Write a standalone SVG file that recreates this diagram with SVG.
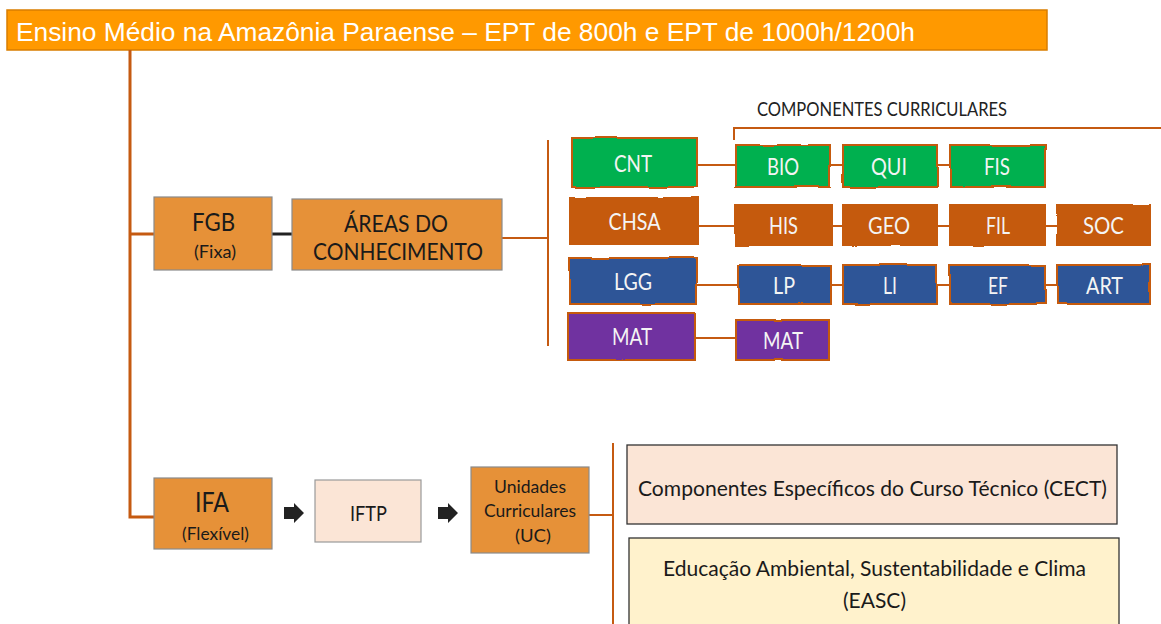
<svg xmlns="http://www.w3.org/2000/svg" width="1161" height="624" viewBox="0 0 1161 624">
<defs>
<filter id="rough" x="-5%" y="-10%" width="110%" height="120%">
<feTurbulence type="fractalNoise" baseFrequency="0.025" numOctaves="1" seed="5" result="n"/>
<feDisplacementMap in="SourceGraphic" in2="n" scale="3" xChannelSelector="R" yChannelSelector="G"/>
</filter>
</defs>
<style>
.t{font-family:Lato,"Open Sans","Liberation Sans",sans-serif;text-anchor:middle}
.w{fill:#f4f4f4;font-size:23px}
.d{fill:#1a1a1a}
.comp{stroke:#C55A11;stroke-width:2;filter:url(#rough)}
.g{fill:#00B050}.o{fill:#C55A11}.b{fill:#2F5597}.p{fill:#7030A0}
.lt{fill:#E69138;stroke:#8a8a8a;stroke-width:1.2}
.con{stroke:#C55A11;stroke-width:3;fill:none}
.thin{stroke:#C55A11;stroke-width:2;fill:none}
</style>
<rect width="1161" height="624" fill="#ffffff"/>
<g id="title">
<rect x="7" y="10" width="1040" height="40" fill="#FF9900" stroke="#D97E00" stroke-width="1.5"/>
<text x="16" y="41" font-family="'Liberation Sans',Arial,sans-serif" font-size="26" fill="#ffffff" textLength="899" lengthAdjust="spacingAndGlyphs">Ensino Médio na Amazônia Paraense – EPT de 800h e EPT de 1000h/1200h</text>
</g>
<g id="connectors">
<path class="con" d="M130 50 V517 H154"/>
<path class="con" d="M130 234 H154"/>
<path d="M272 234 H292" stroke="#222" stroke-width="3"/>
<path class="thin" d="M502 238 H548 M548 140 V346"/>
<path class="thin" d="M734 140 V128 H1161"/>
<path class="thin" d="M697 165 H736 M830 165 H843 M937 165 H950"/>
<path class="thin" d="M698 226 H736 M832 226 H843 M937 226 H950 M1045 226 H1057"/>
<path class="thin" d="M697 285 H738 M831 285 H843 M937 285 H950 M1045 285 H1057"/>
<path class="thin" d="M695 338 H736"/>
<path class="thin" d="M589 515 H613 M613 443 V624"/>
<path d="M284 507 H294 V503 L304 513 L294 523 V519 H284 Z" fill="#222"/>
<path d="M438 507 H448 V503 L458 513 L448 523 V519 H438 Z" fill="#222"/>
</g>
<g id="label-componentes"><text x="757" y="116" font-family="Lato,'Open Sans',sans-serif" font-size="19" fill="#222" textLength="250" lengthAdjust="spacingAndGlyphs">COMPONENTES CURRICULARES</text></g>
<g id="fgb"><rect class="lt" x="154" y="197" width="118" height="73"/><text class="t d" x="213.5" y="231" font-size="25" textLength="43" lengthAdjust="spacingAndGlyphs">FGB</text><text class="t d" x="215" y="258" font-size="17" textLength="42" lengthAdjust="spacingAndGlyphs">(Fixa)</text></g>
<g id="areas"><rect class="lt" x="292" y="199" width="210" height="71"/><text class="t d" x="396" y="232" font-size="23" textLength="104" lengthAdjust="spacingAndGlyphs">ÁREAS DO</text><text class="t d" x="398" y="260" font-size="23" textLength="170" lengthAdjust="spacingAndGlyphs">CONHECIMENTO</text></g>
<g id="cnt"><rect class="comp g" x="572" y="138" width="125" height="49"/><text class="t w" x="633" y="172" textLength="38" lengthAdjust="spacingAndGlyphs">CNT</text></g>
<g id="bio"><rect class="comp g" x="736" y="145" width="94" height="42"/><text class="t w" x="783" y="175" textLength="32" lengthAdjust="spacingAndGlyphs">BIO</text></g>
<g id="qui"><rect class="comp g" x="843" y="145" width="94" height="42"/><text class="t w" x="889" y="175" textLength="36" lengthAdjust="spacingAndGlyphs">QUI</text></g>
<g id="fis"><rect class="comp g" x="950" y="145" width="95" height="42"/><text class="t w" x="997" y="175" textLength="26" lengthAdjust="spacingAndGlyphs">FIS</text></g>
<g id="chsa"><rect class="comp o" x="570" y="198" width="128" height="46"/><text class="t w" x="634.5" y="230" textLength="52" lengthAdjust="spacingAndGlyphs">CHSA</text></g>
<g id="his"><rect class="comp o" x="736" y="205" width="96" height="40"/><text class="t w" x="783.5" y="234" textLength="29" lengthAdjust="spacingAndGlyphs">HIS</text></g>
<g id="geo"><rect class="comp o" x="843" y="205" width="94" height="40"/><text class="t w" x="889" y="234" textLength="42" lengthAdjust="spacingAndGlyphs">GEO</text></g>
<g id="fil"><rect class="comp o" x="950" y="205" width="95" height="40"/><text class="t w" x="998" y="234" textLength="24" lengthAdjust="spacingAndGlyphs">FIL</text></g>
<g id="soc"><rect class="comp o" x="1057" y="205" width="93" height="40"/><text class="t w" x="1103.5" y="234" textLength="41" lengthAdjust="spacingAndGlyphs">SOC</text></g>
<g id="lgg"><rect class="comp b" x="570" y="258" width="127" height="46"/><text class="t w" x="633" y="290" textLength="38" lengthAdjust="spacingAndGlyphs">LGG</text></g>
<g id="lp"><rect class="comp b" x="738" y="265" width="93" height="39"/><text class="t w" x="784" y="294" textLength="22" lengthAdjust="spacingAndGlyphs">LP</text></g>
<g id="li"><rect class="comp b" x="843" y="265" width="94" height="39"/><text class="t w" x="890" y="294" textLength="14" lengthAdjust="spacingAndGlyphs">LI</text></g>
<g id="ef"><rect class="comp b" x="950" y="265" width="95" height="39"/><text class="t w" x="998" y="294" textLength="20" lengthAdjust="spacingAndGlyphs">EF</text></g>
<g id="art"><rect class="comp b" x="1057" y="265" width="93" height="39"/><text class="t w" x="1104.5" y="294" textLength="37" lengthAdjust="spacingAndGlyphs">ART</text></g>
<g id="mat"><rect class="comp p" x="568" y="313" width="127" height="47"/><text class="t w" x="632" y="345" textLength="40" lengthAdjust="spacingAndGlyphs">MAT</text></g>
<g id="mat2"><rect class="comp p" x="736" y="320" width="93" height="40"/><text class="t w" x="783" y="349" textLength="40" lengthAdjust="spacingAndGlyphs">MAT</text></g>
<g id="ifa"><rect class="lt" x="154" y="478" width="118" height="71"/><text class="t d" x="212" y="512" font-size="26" textLength="34" lengthAdjust="spacingAndGlyphs">IFA</text><text class="t d" x="215.5" y="540" font-size="18" textLength="67" lengthAdjust="spacingAndGlyphs">(Flexível)</text></g>
<g id="iftp"><rect x="315" y="480" width="106" height="62" fill="#FBE5D6" stroke="#9a9a9a" stroke-width="1.2"/><text class="t d" x="368.5" y="521" font-size="22" textLength="37" lengthAdjust="spacingAndGlyphs">IFTP</text></g>
<g id="uc"><rect class="lt" x="471" y="467" width="118" height="86"/><text class="t d" x="530" y="493" font-size="18" textLength="72" lengthAdjust="spacingAndGlyphs">Unidades</text><text class="t d" x="530" y="517" font-size="18" textLength="92" lengthAdjust="spacingAndGlyphs">Curriculares</text><text class="t d" x="533" y="542" font-size="18" textLength="36" lengthAdjust="spacingAndGlyphs">(UC)</text></g>
<g id="cect"><rect x="627" y="445" width="490" height="79" fill="#FBE5D6" stroke="#333" stroke-width="1.3"/><text class="t d" x="872.5" y="496" font-size="21" textLength="469" lengthAdjust="spacingAndGlyphs">Componentes Específicos do Curso Técnico (CECT)</text></g>
<g id="easc"><rect x="629" y="538" width="490" height="90" fill="#FFF2CC" stroke="#333" stroke-width="1.3"/><text class="t d" x="874.5" y="576" font-size="21" textLength="423" lengthAdjust="spacingAndGlyphs">Educação Ambiental, Sustentabilidade e Clima</text><text class="t d" x="874.5" y="608" font-size="21" textLength="63" lengthAdjust="spacingAndGlyphs">(EASC)</text></g>
</svg>
